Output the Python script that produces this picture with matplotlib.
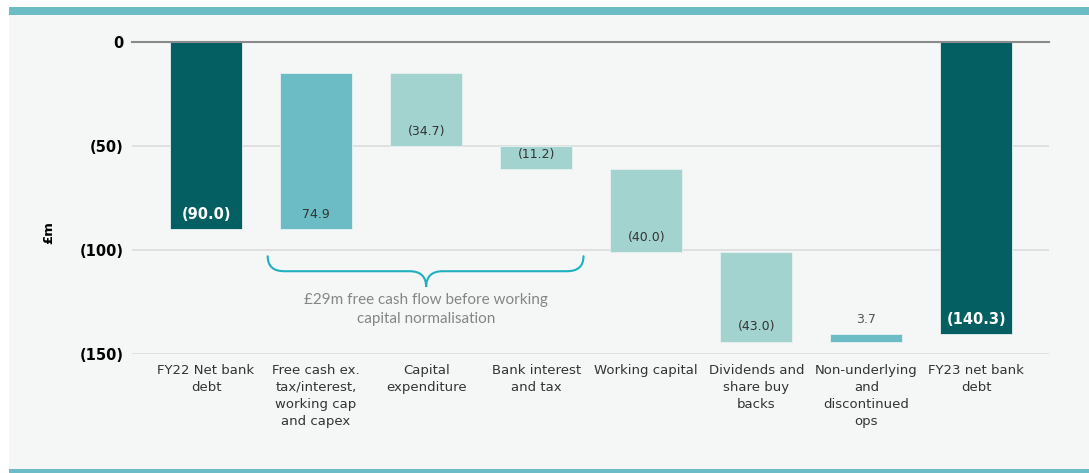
import matplotlib.pyplot as plt
import numpy as np
from matplotlib.patches import Rectangle
from matplotlib.path import Path
from matplotlib.patches import PathPatch

# data
categories = ["FY22 Net bank\ndebt",
              "Free cash ex.\ntax/interest,\nworking cap\nand capex",
              "Capital\nexpenditure",
              "Bank interest\nand tax",
              "Working capital",
              "Dividends and\nshare buy\nbacks",
              "Non-underlying\nand\ndiscontinued\nops",
              "FY23 net bank\ndebt"]
changes = [-90.0, 74.9, -34.7, -11.2, -40.0, -43.0, 3.7, -140.3]
kinds = ["total", "up", "down", "down", "down", "down", "up", "total"]
value_labels = ["(90.0)", "74.9", "(34.7)", "(11.2)", "(40.0)", "(43.0)", "3.7", "(140.3)"]
yticks = [0, -50, -100, -150]
ytick_labels = ["0", "(50)", "(100)", "(150)"]

DARK = "#035f62"
MID = "#6bbcc4"
LIGHT = "#a2d3cf"
BG = "#f5f7f7"
colors = {"total": DARK, "up": MID, "down": LIGHT}

# waterfall bottoms / tops
bottoms, tops = [], []
level = 0.0
for c, k in zip(changes, kinds):
    if k == "total":
        bottoms.append(c)
        tops.append(0.0)
        level = c
    else:
        new = level + c
        bottoms.append(min(level, new))
        tops.append(max(level, new))
        level = new

fig = plt.figure(figsize=(10.89, 4.73), dpi=100)
fig.patch.set_facecolor("white")
# background panel + teal bands
fig.patches.append(Rectangle((9/1089, 4/473), 1 - 9/1089, 454/473, transform=fig.transFigure,
                             facecolor=BG, edgecolor="none", zorder=-2))
fig.patches.append(Rectangle((9/1089, 458/473), 1 - 9/1089, 8/473, transform=fig.transFigure,
                             facecolor=MID, edgecolor="none", zorder=-1))
fig.patches.append(Rectangle((9/1089, 0), 1 - 9/1089, 4/473, transform=fig.transFigure,
                             facecolor=MID, edgecolor="none", zorder=-1))

ax = fig.add_axes([132/1089, (473-354)/473, (1049-132)/1089, (354-42)/473])
ax.set_facecolor("none")
x = np.arange(len(categories))
heights = [t - b for t, b in zip(tops, bottoms)]
ax.bar(x, heights, bottom=bottoms, width=0.655,
       color=[colors[k] for k in kinds], edgecolor="#e8f2f2", linewidth=0.6, zorder=3)

ax.set_xlim(-0.673, 7.66)
ax.set_ylim(-150, 0)
ax.set_yticks(yticks)
ax.set_yticklabels(ytick_labels, fontweight="bold", fontsize=10.5)
ax.set_xticks(x)
ax.set_xticklabels(categories, fontsize=9.5, color="#333333", linespacing=1.42)
ax.tick_params(axis="x", length=0, pad=7)
ax.tick_params(axis="y", length=0, pad=6)
for s in ax.spines.values():
    s.set_visible(False)
for yv in yticks[1:]:
    ax.axhline(yv, color="#dcdcdc", linewidth=1.2, zorder=1)
ax.axhline(0, color="#8a8a8a", linewidth=1.5, zorder=4, clip_on=False)
ax.set_ylabel("£m", fontweight="bold", fontsize=9.5)
ax.yaxis.set_label_coords(-0.084, 0.39)

# value labels
for i, k in enumerate(kinds):
    if k == "total":
        ax.text(x[i], bottoms[i] + 7, value_labels[i], ha="center", va="center",
                color="white", fontweight="bold", fontsize=10.5, zorder=5)
    elif i == 6:
        ax.text(x[i], tops[i] + 7, value_labels[i], ha="center", va="center",
                color="#555555", fontsize=9, zorder=5)
    else:
        ax.text(x[i], bottoms[i] + 7, value_labels[i], ha="center", va="center",
                color="#333333", fontsize=9, zorder=5)

# brace under bars 1-3
xl, xr, xm = 0.56, 3.43, 2.0
y0, y1, y2 = -103.0, -110.2, -117.8
r = 0.15
verts = [(xl, y0), (xl, y1), (xl + r, y1),
         (xm - r, y1), (xm, y1), (xm, y2),
         (xm, y1), (xm + r, y1),
         (xr - r, y1), (xr, y1), (xr, y0)]
codes = [Path.MOVETO, Path.CURVE3, Path.CURVE3,
         Path.LINETO, Path.CURVE3, Path.CURVE3,
         Path.CURVE3, Path.CURVE3,
         Path.LINETO, Path.CURVE3, Path.CURVE3]
ax.add_patch(PathPatch(Path(verts, codes), facecolor="none", edgecolor="#1fb0c0",
                       linewidth=1.5, zorder=5, clip_on=False, capstyle="round"))
ax.text(xm, -128.6, "£29m free cash flow before working\ncapital normalisation",
        ha="center", va="center", color="#858585", fontsize=11, linespacing=1.4,
        family=["Lato", "DejaVu Sans"])

fig.savefig("out.png", dpi=100, facecolor=fig.get_facecolor())
